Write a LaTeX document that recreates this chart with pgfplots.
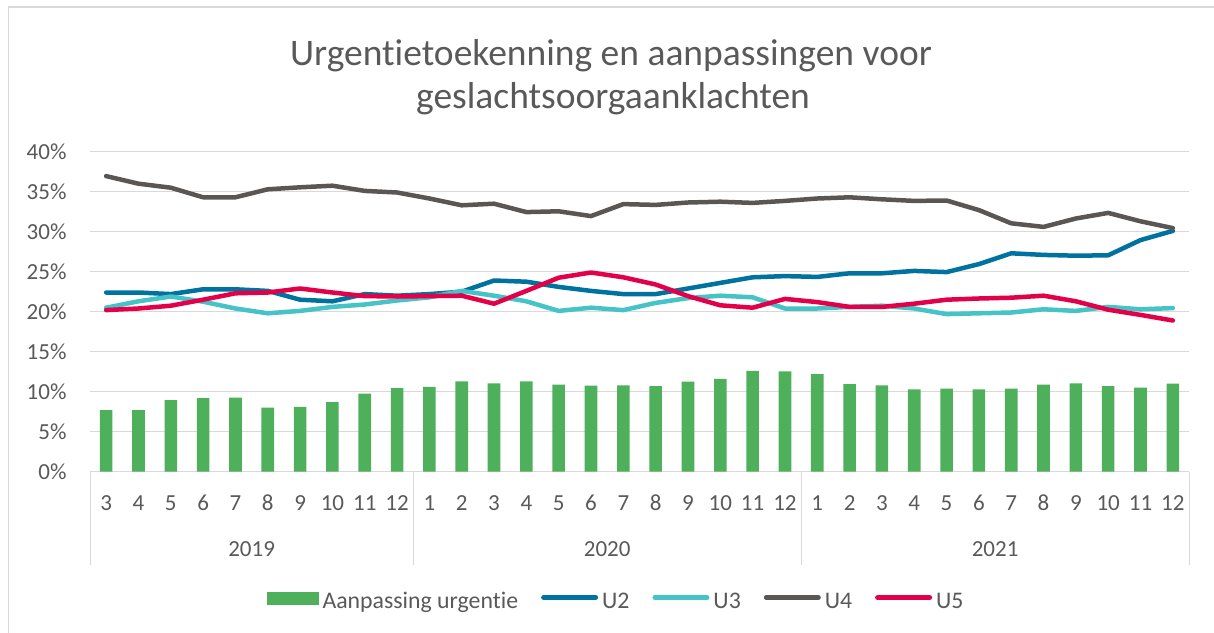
\documentclass[border=0pt]{standalone}
\usepackage{pgfplots}
\pgfplotsset{compat=1.18}
\usepackage{fontspec}
\setmainfont[Ligatures=NoCommon]{Carlito}
\definecolor{cgreen}{RGB}{78,176,91}
\definecolor{cU2}{RGB}{0,114,160}
\definecolor{cU3}{RGB}{70,195,198}
\definecolor{cU4}{RGB}{90,86,84}
\definecolor{cU5}{RGB}{228,0,72}
\definecolor{gridc}{RGB}{217,217,217}
\definecolor{textc}{RGB}{89,89,89}

\pgfplotstableread{
x bar u2 u3 u4 u5
0 7.7 22.4 20.5 36.95 20.2
1 7.7 22.4 21.3 36.0 20.4
2 8.95 22.2 21.9 35.5 20.75
3 9.2 22.8 21.25 34.3 21.5
4 9.25 22.8 20.4 34.3 22.3
5 8.0 22.6 19.8 35.3 22.4
6 8.1 21.5 20.1 35.55 22.9
7 8.7 21.3 20.6 35.75 22.4
8 9.75 22.2 20.9 35.1 21.95
9 10.45 22.0 21.4 34.9 21.9
10 10.6 22.2 21.8 34.15 21.95
11 11.3 22.5 22.6 33.3 22.0
12 11.05 23.9 22.0 33.5 21.0
13 11.3 23.75 21.3 32.45 22.6
14 10.9 23.1 20.1 32.55 24.25
15 10.75 22.6 20.5 31.95 24.9
16 10.8 22.2 20.2 33.45 24.3
17 10.7 22.2 21.1 33.35 23.4
18 11.25 22.9 21.7 33.65 21.95
19 11.6 23.6 22.0 33.75 20.8
20 12.6 24.3 21.8 33.6 20.5
21 12.55 24.45 20.4 33.85 21.6
22 12.2 24.35 20.4 34.15 21.2
23 10.95 24.8 20.6 34.3 20.6
24 10.8 24.8 20.75 34.05 20.6
25 10.3 25.1 20.4 33.85 21.0
26 10.4 24.95 19.7 33.9 21.5
27 10.3 25.95 19.8 32.7 21.65
28 10.4 27.3 19.9 31.05 21.75
29 10.9 27.1 20.3 30.6 22.0
30 11.05 27.0 20.1 31.65 21.3
31 10.7 27.05 20.6 32.35 20.25
32 10.5 28.95 20.3 31.3 19.6
33 11.0 30.1 20.45 30.45 18.9
}\datatable

\begin{document}
\begin{tikzpicture}[x=1pt,y=1pt]
\useasboundingbox (0,0) rectangle (1214,632);
\draw[gridc, line width=1.3pt] (8.5,-5) -- (8.5,625) -- (1220,625);
\node[font=\fontsize{37.5}{40}\selectfont, text=textc, anchor=base, inner sep=0pt] at (611,566.5) {Urgentietoekenning en aanpassingen voor};
\node[font=\fontsize{37.5}{40}\selectfont, text=textc, anchor=base, inner sep=0pt] at (613,523) {geslachtsoorgaanklachten};
\begin{axis}[
  at={(90pt,160.3pt)}, anchor=south west,
  width=1099pt, height=320pt, scale only axis,
  xmin=-0.5, xmax=33.5, ymin=0, ymax=40,
  clip=false,
  axis line style={draw=none},
  major tick length=0pt,
  ymajorgrids, grid style={gridc, line width=1pt},
  ytick={0,5,...,40},
  yticklabels={0\%,5\%,10\%,15\%,20\%,25\%,30\%,35\%,40\%},
  xtick={0,...,33},
  xticklabels={3,4,5,6,7,8,9,10,11,12,1,2,3,4,5,6,7,8,9,10,11,12,1,2,3,4,5,6,7,8,9,10,11,12},
  yticklabel style={anchor=east, inner sep=0pt, xshift=-23.3pt, font=\fontsize{23}{27}\selectfont, text=textc},
  xticklabel style={anchor=base, inner sep=0pt, yshift=-38.3pt, font=\fontsize{23}{27}\selectfont, text=textc},
  legend columns=-1,
  legend style={at={(0.4777,-0.404)}, anchor=center, draw=none, fill=none,
    font=\fontsize{23.8}{27}\selectfont, text=textc,
    nodes={inner sep=0pt},
    /tikz/every odd column/.append style={column sep=4pt},
    /tikz/every even column/.append style={column sep=23pt}},
]
\addplot[ybar, bar width=0.39, fill=cgreen, draw=none,
  legend image code/.code={\fill[cgreen] (0pt,-3.5pt) rectangle (52pt,10pt);}]
  table[x=x, y=bar] {\datatable};
\addlegendentry{Aanpassing urgentie}
\addplot[cU2, line width=4.5pt, line join=round, line cap=round, no markers,
  legend image code/.code={\draw[cU2, line width=5pt, line cap=round] (2pt,4pt) -- (54pt,4pt);}]
  table[x=x, y=u2] {\datatable};
\addlegendentry{U2}
\addplot[cU3, line width=4.5pt, line join=round, line cap=round, no markers,
  legend image code/.code={\draw[cU3, line width=5pt, line cap=round] (2pt,4pt) -- (54pt,4pt);}]
  table[x=x, y=u3] {\datatable};
\addlegendentry{U3}
\addplot[cU4, line width=4.5pt, line join=round, line cap=round, no markers,
  legend image code/.code={\draw[cU4, line width=5pt, line cap=round] (2pt,4pt) -- (54pt,4pt);}]
  table[x=x, y=u4] {\datatable};
\addlegendentry{U4}
\addplot[cU5, line width=4.5pt, line join=round, line cap=round, no markers,
  legend image code/.code={\draw[cU5, line width=5pt, line cap=round] (2pt,4pt) -- (54pt,4pt);}]
  table[x=x, y=u5] {\datatable};
\addlegendentry{U5}
\end{axis}
\foreach \sx in {90,413.24,801.1,1189}{
  \draw[gridc, line width=1pt] (\sx,160.3) -- (\sx,67);
}
\node[font=\fontsize{23}{27}\selectfont, text=textc, anchor=base, inner sep=0pt] at (251.6,75.3) {2019};
\node[font=\fontsize{23}{27}\selectfont, text=textc, anchor=base, inner sep=0pt] at (607.2,75.3) {2020};
\node[font=\fontsize{23}{27}\selectfont, text=textc, anchor=base, inner sep=0pt] at (995.1,75.3) {2021};
\end{tikzpicture}
\end{document}
